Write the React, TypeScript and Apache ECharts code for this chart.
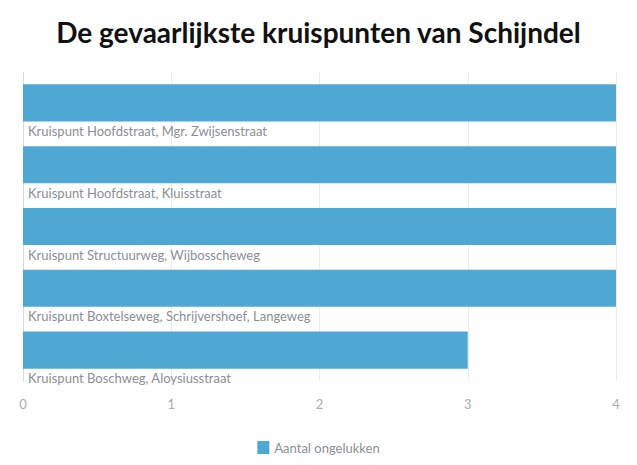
import React, { useEffect, useRef } from "react";
import * as echarts from "echarts";

const categories = [
  "Kruispunt Hoofdstraat, Mgr. Zwijsenstraat",
  "Kruispunt Hoofdstraat, Kluisstraat",
  "Kruispunt Structuurweg, Wijbosscheweg",
  "Kruispunt Boxtelseweg, Schrijvershoef, Langeweg",
  "Kruispunt Boschweg, Aloysiusstraat",
];
const values = [4, 4, 4, 4, 3];
const seriesName = "Aantal ongelukken";
const titleText = "De gevaarlijkste kruispunten van Schijndel";

export default function App() {
  const ref = useRef<HTMLDivElement>(null);
  useEffect(() => {
    if (!ref.current) return;
    const chart = echarts.init(ref.current, undefined, { renderer: "svg" });
    chart.setOption({
      animation: false,
      title: {
        text: titleText,
        left: "center",
        top: 13,
        textStyle: { fontFamily: "Lato", fontWeight: "bold", fontSize: 28, color: "#111" },
      },
      legend: {
        bottom: 6,
        left: "center",
        icon: "rect",
        itemWidth: 12,
        itemHeight: 13,
        textStyle: { fontFamily: "Lato", fontSize: 13, color: "#8a8e96" },
        data: [seriesName],
      },
      grid: { left: 23, right: 21, top: 72, bottom: 84, containLabel: false },
      xAxis: {
        type: "value",
        min: 0,
        max: 4,
        interval: 1,
        axisLine: { show: false },
        axisTick: { show: false },
        splitLine: { show: true, lineStyle: { color: "#ececec" } },
        axisLabel: { color: "#a9acb1", fontFamily: "Lato", fontSize: 13, margin: 16 },
      },
      yAxis: {
        type: "category",
        inverse: true,
        data: categories,
        axisLine: { show: true, lineStyle: { color: "#d8d8d8" } },
        axisTick: { show: false },
        axisLabel: { show: false },
      },
      series: [
        {
          name: seriesName,
          type: "bar",
          data: values,
          barCategoryGap: "40%",
          itemStyle: { color: "#4fa8d4" },
          label: {
            show: true,
            position: [5, "100%"],
            distance: 0,
            offset: [0, 3],
            formatter: (p: any) => p.name,
            color: "#8a8e96",
            fontFamily: "Lato",
            fontSize: 13,
            align: "left",
            verticalAlign: "top",
          },
        },
      ],
    });
    return () => chart.dispose();
  }, []);
  return <div ref={ref} style={{ width: 637, height: 465, position: "absolute", left: 0, top: 0 }} />;
}
